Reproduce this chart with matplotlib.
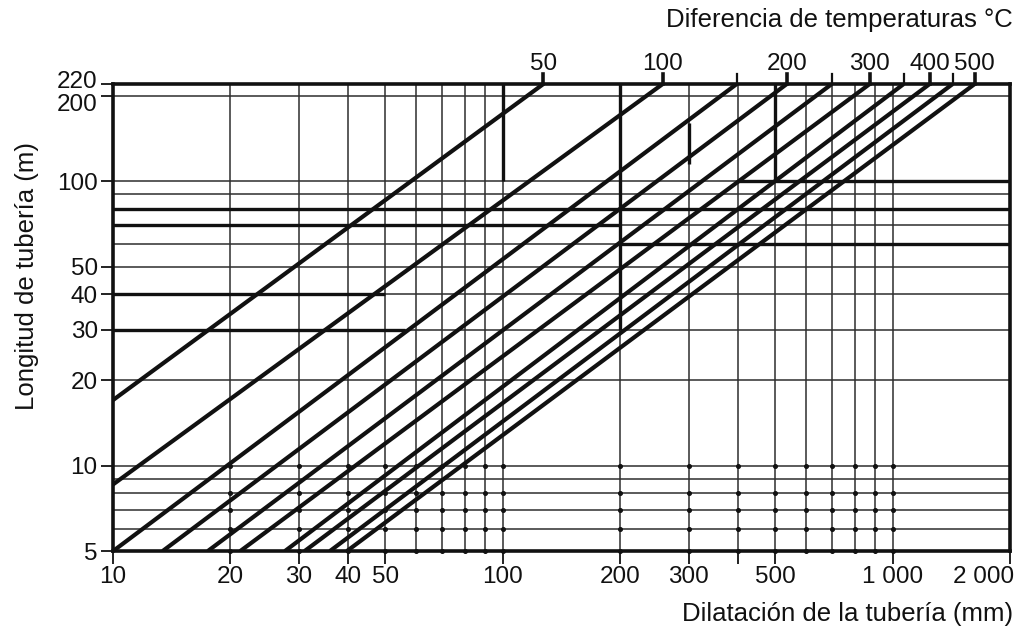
import matplotlib
matplotlib.use("Agg")
import matplotlib.pyplot as plt
from matplotlib.transforms import ScaledTranslation
import numpy as np

plt.rcParams['font.family'] = ['Liberation Sans', 'DejaVu Sans']

# Temperature-difference lines (°C): start point and end point (at L = 220 m)
temps = [50, 100, 150, 200, 250, 300, 350, 400, 450, 500]
start_x = [10, 10, 10, 13.4, 17.5, 21.2, 27.6, 31, 36, 39.8]
start_L = [17.0, 8.58, 5, 5, 5, 5, 5, 5, 5, 5]
end_x = [127, 257, 398, 535, 698, 873, 1067, 1244, 1425, 1623]
end_L = [220] * 10
top_labeled = [50, 100, 200, 300, 400, 500]

# Axis ticks
x_ticks = [10, 20, 30, 40, 50, 100, 200, 300, 400, 500, 1000, 2000]
x_ticklabels = ['10', '20', '30', '40', '50', '100', '200', '300', '', '500', '1 000', '2 000']
y_ticks = [5, 10, 20, 30, 40, 50, 100, 200, 220]
y_ticklabels = ['5', '10', '20', '30', '40', '50', '100', '200', '220']

# Grid
x_grid = [20, 30, 40, 50, 60, 70, 80, 90, 100, 200, 300, 400, 500, 600, 700, 800, 900, 1000]
y_grid = [6, 7, 8, 9, 10, 20, 30, 40, 50, 60, 70, 80, 90, 100, 200]
dot_rows = [5, 6, 7, 8, 10]

fig = plt.figure(figsize=(10.21, 6.32), dpi=100)
ax = fig.add_axes([0.1107, 0.128, 0.8785, 0.739])
ax.set_xscale('log')
ax.set_yscale('log')
ax.set_xlim(10, 2000)
ax.set_ylim(5, 220)

gc = '#2e2e2e'
for xv in x_grid:
    ax.axvline(xv, color=gc, lw=1.1, zorder=1)
for yv in y_grid:
    ax.axhline(yv, color=gc, lw=1.1, zorder=1)

# small dots at grid intersections (lower region)
gx, gy = np.meshgrid(x_grid, dot_rows)
ax.plot(gx.ravel(), gy.ravel(), 'o', color='#111', ms=2.6, zorder=2, clip_on=False)

# thicker partial grid segments
thick = 2.4
ax.hlines(80, 10, 2000, color='#111', lw=thick, zorder=1.5)
ax.hlines(70, 10, 200, color='#111', lw=thick, zorder=1.5)
ax.hlines(60, 200, 2000, color='#111', lw=thick, zorder=1.5)
ax.hlines(100, 400, 2000, color='#111', lw=thick, zorder=1.5)
ax.hlines(40, 10, 50, color='#111', lw=thick, zorder=1.5)
ax.hlines(30, 10, 56, color='#111', lw=thick, zorder=1.5)
ax.vlines(100, 100, 220, color='#111', lw=thick, zorder=1.5)
ax.vlines(200, 30, 220, color='#111', lw=thick, zorder=1.5)
ax.vlines(300, 115, 160, color='#111', lw=thick, zorder=1.5)
ax.vlines(500, 100, 220, color='#111', lw=thick, zorder=1.5)

for t, sx, sl, ex, el in zip(temps, start_x, start_L, end_x, end_L):
    ax.plot([sx, ex], [sl, el], color='#111', lw=3.0, solid_capstyle='butt', zorder=3)

# top ticks and labels at line ends
xtr = ax.get_xaxis_transform()
for t, ex in zip(temps, end_x):
    lab = t in top_labeled
    ax.plot([ex, ex], [1.0, 1.022], transform=xtr, color='#111',
            lw=2.6 if lab else 1.6, clip_on=False, zorder=4)
    if lab:
        ax.text(ex, 1.02, str(t), transform=xtr, ha='center', va='bottom',
                fontsize=17.5, color='#111')

for s in ax.spines.values():
    s.set_linewidth(2.6)
    s.set_color('#111')

ax.set_xticks(x_ticks)
ax.set_xticklabels(x_ticklabels)
ax.set_yticks(y_ticks)
ax.set_yticklabels(y_ticklabels)
ax.minorticks_off()
ax.tick_params(axis='both', direction='out', length=9, width=1.3, colors='#111',
               labelsize=17.5, pad=2)
for lbl, v in zip(ax.get_yticklabels(), y_ticks):
    if v == 220:
        lbl.set_transform(lbl.get_transform() + ScaledTranslation(0, 3/72, fig.dpi_scale_trans))
    elif v == 200:
        lbl.set_transform(lbl.get_transform() + ScaledTranslation(0, -5/72, fig.dpi_scale_trans))
for lbl, v in zip(ax.get_xticklabels(), x_ticks):
    if v == 2000:
        lbl.set_ha('right')
        lbl.set_transform(lbl.get_transform() + ScaledTranslation(3/72, 0, fig.dpi_scale_trans))

ax.set_ylabel('Longitud de tubería (m)', fontsize=18.5, color='#111')
ax.yaxis.set_label_coords(-0.083, 0.59)
fig.text(0.992, 0.958, 'Diferencia de temperaturas °C', ha='right', va='baseline',
         fontsize=18.5, color='#111')
fig.text(0.992, 0.018, 'Dilatación de la tubería (mm)', ha='right', va='baseline',
         fontsize=18.5, color='#111')

fig.savefig('out.png', dpi=100)
